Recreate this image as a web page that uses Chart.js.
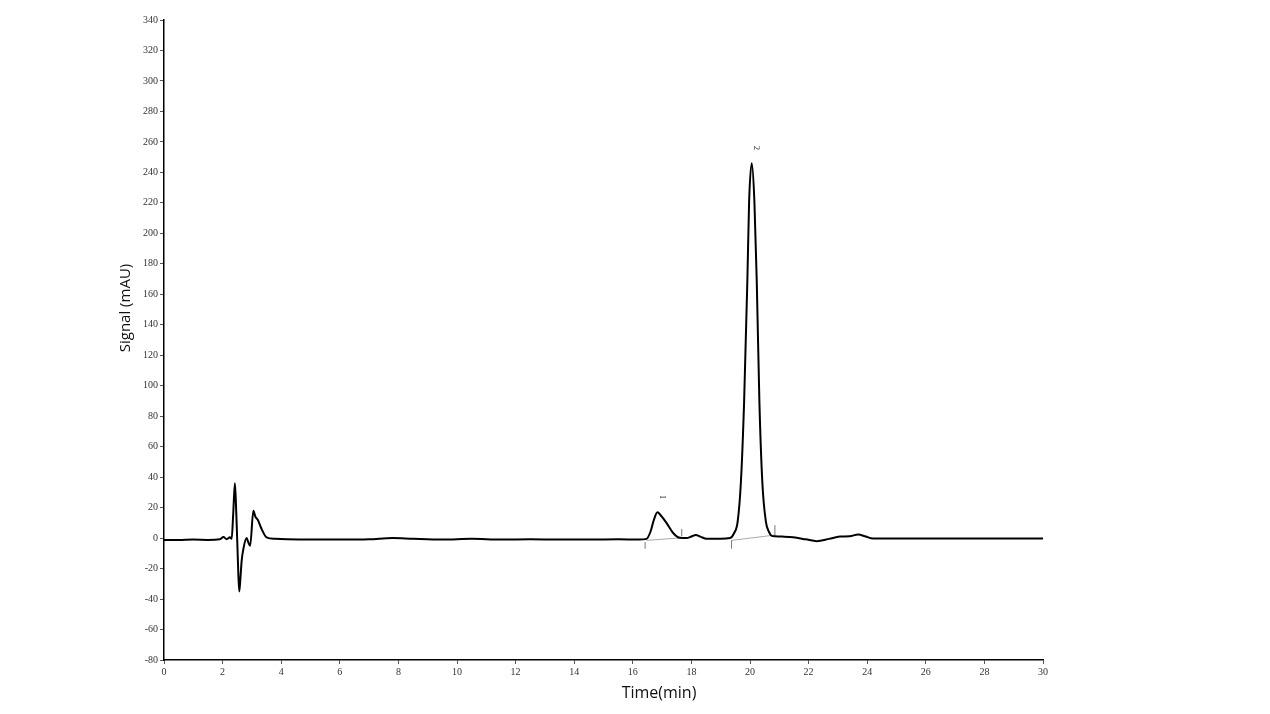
<!DOCTYPE html>
<html>
<head>
<meta charset="utf-8">
<script src="https://cdn.jsdelivr.net/npm/chart.js@4/dist/chart.umd.min.js"></script>
<style>
  body { margin: 0; background: #fff; }
  canvas { display: block; }
</style>
</head>
<body>
<canvas id="chromChart" width="1270" height="714"></canvas>
<script>
// chromatogram trace (min / mAU)
const timeMin = [0, 0.5, 1.0, 1.5, 1.9, 2.03, 2.14, 2.25, 2.31, 2.36, 2.42, 2.46, 2.5, 2.54, 2.57, 2.61, 2.65, 2.71, 2.82, 2.88, 2.94, 3.05,
  3.12, 3.2, 3.33, 3.5, 3.8, 4.2, 5, 6, 7, 7.8, 8.5, 9.5, 10.5, 11.5, 12.5, 13.5, 14.5, 15.5, 16.2,
  16.47, 16.6, 16.72, 16.84, 16.95, 17.15, 17.37, 17.6, 17.84, 18.0, 18.15, 18.3, 18.52, 19.0,
  19.32, 19.45, 19.58, 19.69, 19.8, 19.91, 19.97, 20.06, 20.15, 20.23, 20.32, 20.42, 20.54, 20.65, 20.74,
  20.85, 21.1, 21.47, 21.9, 22.28, 22.7, 23.07, 23.4, 23.69, 23.95, 24.2, 25, 26, 27, 28, 29, 30];
const signalMAU = [-1.2, -1.3, -1.0, -1.2, -0.8, 0.7, -0.7, 0.5, -0.5, 15, 36, 20, -2, -25, -35, -26, -15, -7, 0, -3, -5, 18,
  14, 12, 6, 0.5, -0.5, -0.8, -1, -1, -0.8, 0, -0.5, -1, -0.5, -1, -0.8, -1, -1, -0.8, -1,
  -0.5, 4, 12, 17, 15, 10, 3.5, 0.2, 0, 1, 2, 1, -0.5, -0.5,
  0, 3, 11, 37, 90, 169, 221, 246, 221, 169, 90, 37, 11, 4, 1.5,
  1.2, 1, 0.5, -0.8, -2, -0.5, 1, 1.2, 2.4, 1, -0.3, -0.2, -0.3, -0.2, -0.2, -0.3, -0.2];

// integration baselines and their start/end markers
const baseTimes = [16.47, 17.67, null, 19.37, 20.85];
const baseVals = [-1.5, 0.2, null, -1.5, 2];
const markTimes = [16.42, 17.67, 19.37, 20.85];
const markLow = [-7, 1.3, -7, 1.3];
const markHigh = [-2.6, 6, -1.3, 8.5];

// peak numbers
const peakNames = ['1', '2'];
const peakTimes = [17.0, 20.2];
const peakLabelY = [27, 256];

const yTicksMin = -80, yTicksMax = 340, yStep = 20;
const xTicksMin = 0, xTicksMax = 30, xStep = 2;

const tracePts = timeMin.map((t, i) => ({ x: t, y: signalMAU[i] }));
const basePts = baseTimes.map((t, i) => ({ x: t, y: baseVals[i] }));
const markPts = [];
for (let i = 0; i < markTimes.length; i++) {
  markPts.push({ x: markTimes[i], y: markLow[i] });
  markPts.push({ x: markTimes[i], y: markHigh[i] });
  markPts.push({ x: markTimes[i], y: null });
}

const labelsPlugin = {
  id: 'labelsPlugin',
  afterDraw(chart) {
    const ctx = chart.ctx;
    const xs = chart.scales.x, ys = chart.scales.y;
    ctx.save();
    // peak numbers, rotated
    ctx.fillStyle = '#222';
    ctx.font = '8px "Liberation Serif"';
    ctx.textAlign = 'center';
    ctx.textBaseline = 'middle';
    for (let i = 0; i < peakNames.length; i++) {
      ctx.save();
      ctx.translate(xs.getPixelForValue(peakTimes[i]), ys.getPixelForValue(peakLabelY[i]));
      ctx.rotate(Math.PI / 2);
      ctx.fillText(peakNames[i], 0, 0);
      ctx.restore();
    }
    // axis titles
    ctx.fillStyle = '#111';
    ctx.font = '16px "Open Sans"';
    ctx.fillText('Time(min)', 659, 693);
    ctx.save();
    ctx.translate(126, 308);
    ctx.rotate(-Math.PI / 2);
    ctx.font = '15px "Open Sans"';
    ctx.fillText('Signal (mAU)', 0, 0);
    ctx.restore();
    ctx.restore();
  }
};

const ctx = document.getElementById('chromChart').getContext('2d');
const chromChart = new Chart(ctx, {
  type: 'line',
  data: {
    datasets: [{
      label: 'trace',
      data: tracePts,
      borderColor: '#000',
      borderWidth: 2,
      pointRadius: 0,
      fill: false,
      cubicInterpolationMode: 'monotone',
      order: 0
    }, {
      label: 'baseline',
      data: basePts,
      borderColor: '#aaa',
      borderWidth: 1,
      pointRadius: 0,
      spanGaps: false,
      order: 1
    }, {
      label: 'markers',
      data: markPts,
      borderColor: '#777',
      borderWidth: 1,
      pointRadius: 0,
      spanGaps: false,
      order: 1
    }]
  },
  options: {
    responsive: false,
    animation: false,
    layout: { padding: { left: 0, right: 227, top: 20, bottom: 0 } },
    plugins: {
      legend: { display: false },
      tooltip: { enabled: false }
    },
    scales: {
      x: {
        type: 'linear',
        min: xTicksMin,
        max: xTicksMax,
        ticks: {
          stepSize: xStep,
          padding: 2,
          color: '#333',
          font: { family: '"Liberation Serif"', size: 10 }
        },
        grid: { drawOnChartArea: false, drawTicks: true, tickLength: 4, color: '#555' },
        border: { display: true, color: '#000', width: 1.5 },
        afterFit(scale) { scale.height = 54; }
      },
      y: {
        min: yTicksMin,
        max: yTicksMax,
        ticks: {
          stepSize: yStep,
          padding: 2,
          color: '#333',
          font: { family: '"Liberation Serif"', size: 10 }
        },
        grid: { drawOnChartArea: false, drawTicks: true, tickLength: 4, color: '#555' },
        border: { display: true, color: '#000', width: 1.5 },
        afterFit(scale) { scale.width = 164; }
      }
    }
  },
  plugins: [labelsPlugin]
});
</script>
</body>
</html>
